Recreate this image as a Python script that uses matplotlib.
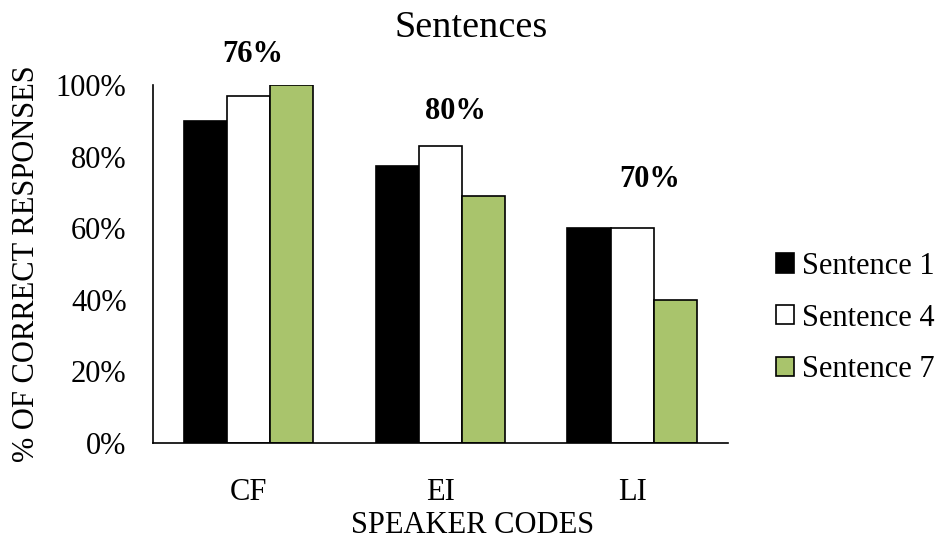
import numpy as np
import matplotlib
matplotlib.use("Agg")
from matplotlib import pyplot as plt
from matplotlib.ticker import PercentFormatter

plt.rcParams['font.family'] = ['Liberation Serif', 'DejaVu Serif']

# data
speakers = ['CF', 'EI', 'LI']
series_names = ['Sentence 1', 'Sentence 4', 'Sentence 7']
sentence1 = [90, 77.5, 60]
sentence4 = [97, 83, 60]
sentence7 = [100, 69, 40]
overall_labels = ['76%', '80%', '70%']
overall_label_pos = [(0.02, 108.5), (1.08, 92.5), (2.09, 73.5)]

colors = ['black', 'white', '#a9c46c']
yticks = [0, 20, 40, 60, 80, 100]

fig = plt.figure(figsize=(9.43, 5.44), dpi=100)
ax = fig.add_axes([0.1622, 0.1857, 0.6098, 0.6581])

x = np.arange(len(speakers))
width = 0.225
for i, (vals, name, col) in enumerate(zip([sentence1, sentence4, sentence7], series_names, colors)):
    ax.bar(x + (i - 1) * width, vals, width, color=col, edgecolor='black',
           linewidth=1.2, label=name)

for lab, (lx, ly) in zip(overall_labels, overall_label_pos):
    ax.text(lx, ly, lab, ha='center', va='center', fontsize=22, fontweight='bold',
            clip_on=False)

ax.set_xlim(-0.5, 2.5)
ax.set_ylim(0, 100)
ax.set_yticks(yticks)
ax.yaxis.set_major_formatter(PercentFormatter(decimals=0))
ax.set_xticks(x)
ax.set_xticklabels(speakers)
ax.tick_params(axis='both', length=0, labelsize=22)
ax.tick_params(axis='y', pad=19)
ax.tick_params(axis='x', pad=25)

for s in ['top', 'right']:
    ax.spines[s].set_visible(False)
for s in ['left', 'bottom']:
    ax.spines[s].set_linewidth(1.2)

ax.set_ylabel('% OF CORRECT RESPONSES', fontsize=22, va='center')
ax.yaxis.set_label_coords(-0.22, 0.5)
ax.set_xlabel('SPEAKER CODES', fontsize=22, va='center')
ax.xaxis.set_label_coords(0.555, -0.23)

fig.text(0.5, 1 - 28 / 544, 'Sentences', ha='center', va='center', fontsize=27.5)

fig.legend(loc='center left', bbox_to_anchor=(0.823, 0.4154), frameon=False,
           fontsize=22, handlelength=0.6, handleheight=0.6, handletextpad=0.25,
           labelspacing=0.75, borderpad=0, borderaxespad=0)

fig.savefig('out.png', dpi=100)
